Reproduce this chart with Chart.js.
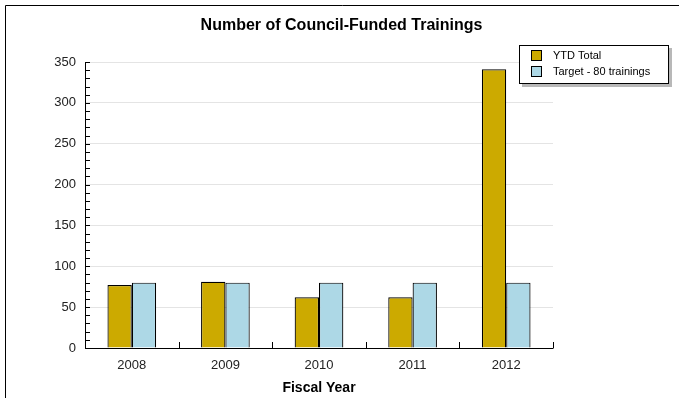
<!DOCTYPE html>
<html>
<head>
<meta charset="utf-8">
<script src="https://cdn.jsdelivr.net/npm/chart.js@4/dist/chart.umd.min.js"></script>
<style>
  html, body { margin: 0; padding: 0; background: #fff; }
  #wrap { width: 679px; height: 398px; position: relative; }
</style>
</head>
<body>
<div id="wrap"><canvas id="chart"></canvas></div>
<script>
// chart data
const chartTitle = "Number of Council-Funded Trainings";
const years = ["2008", "2009", "2010", "2011", "2012"];
const ytdTotal = [77, 81, 62, 62, 341];
const target = [80, 80, 80, 80, 80];
const seriesNames = ["YTD Total", "Target - 80 trainings"];
const yTickLabels = [0, 50, 100, 150, 200, 250, 300, 350];

const FONT = "'Liberation Sans', Arial, sans-serif";

// frame, page-centred title, inner tick marks and boxed legend with shadow
const decorPlugin = {
  id: "decor",
  afterDraw(chart) {
    const ctx = chart.ctx;
    const x = chart.scales.x;
    const y = chart.scales.y;
    const area = chart.chartArea;
    ctx.save();

    // outer frame (left + top only visible)
    ctx.strokeStyle = "#000";
    ctx.lineWidth = 1;
    ctx.beginPath();
    ctx.moveTo(5.5, 398);
    ctx.lineTo(5.5, 5.5);
    ctx.lineTo(679, 5.5);
    ctx.stroke();

    // title, centred on the whole picture
    ctx.fillStyle = "#000";
    ctx.font = "bold 16px " + FONT;
    ctx.textAlign = "center";
    ctx.textBaseline = "middle";
    ctx.fillText(chartTitle, chart.width / 2 + 2, 26);
    ctx.textAlign = "left";

    // axis lines
    ctx.beginPath();
    ctx.moveTo(area.left + 0.5, area.top);
    ctx.lineTo(area.left + 0.5, area.bottom + 0.5);
    ctx.lineTo(area.right + 0.5, area.bottom + 0.5);
    ctx.stroke();

    // y ticks every 10, pointing into the plot
    for (let v = 0; v <= 350; v += 10) {
      const py = Math.round(y.getPixelForValue(v)) + 0.5;
      ctx.beginPath();
      ctx.moveTo(area.left, py);
      ctx.lineTo(area.left + 5, py);
      ctx.stroke();
    }

    // x ticks at category boundaries, pointing up
    const step = x.getPixelForValue(1) - x.getPixelForValue(0);
    for (let i = 0; i < years.length; i++) {
      const px = Math.round(x.getPixelForValue(i) + step / 2) + 0.5;
      ctx.beginPath();
      ctx.moveTo(px, area.bottom);
      ctx.lineTo(px, area.bottom - 6);
      ctx.stroke();
    }

    // legend box
    const lx = 519, ly = 45, lw = 149, lh = 38;
    ctx.fillStyle = "#b8b8b8";
    ctx.fillRect(lx + 3, ly + 3, lw + 1, lh + 1);
    ctx.fillStyle = "#fff";
    ctx.fillRect(lx, ly, lw, lh);
    ctx.strokeStyle = "#000";
    ctx.strokeRect(lx + 0.5, ly + 0.5, lw, lh);

    ctx.font = "11px " + FONT;
    ctx.textBaseline = "middle";
    chart.data.datasets.forEach((ds, i) => {
      const ry = ly + 10 + i * 16;
      ctx.fillStyle = ds.backgroundColor;
      ctx.fillRect(lx + 12, ry - 5, 10, 10);
      ctx.strokeStyle = "#000";
      ctx.strokeRect(lx + 12.5, ry - 4.5, 10, 10);
      ctx.fillStyle = "#000";
      ctx.fillText(ds.label, lx + 34, ry + 1);
    });

    ctx.restore();
  }
};

new Chart(document.getElementById("chart"), {
  type: "bar",
  data: {
    labels: years,
    datasets: [
      {
        label: seriesNames[0],
        data: ytdTotal,
        backgroundColor: "#ccaa00",
        borderColor: "#000",
        borderWidth: 1.2,
        barPercentage: 1,
        categoryPercentage: 0.52
      },
      {
        label: seriesNames[1],
        data: target,
        backgroundColor: "#add8e6",
        borderColor: "#000",
        borderWidth: 1.2,
        barPercentage: 1,
        categoryPercentage: 0.52
      }
    ]
  },
  options: {
    responsive: true,
    maintainAspectRatio: false,
    animation: false,
    layout: { padding: { left: 0, right: 126, top: 62, bottom: 0 } },
    plugins: {
      legend: { display: false },
      tooltip: { enabled: false },
      title: { display: false }
    },
    scales: {
      x: {
        afterFit: s => { s.height = 50; },
        grid: { display: false, drawTicks: false },
        border: { display: false },
        ticks: {
          color: "#222",
          font: { family: FONT, size: 13 },
          padding: 10
        },
        title: {
          display: true,
          text: "Fiscal Year",
          color: "#000",
          font: { family: FONT, size: 14, weight: "bold" },
          padding: { top: 0, bottom: 1 }
        }
      },
      y: {
        min: 0,
        max: 350,
        afterFit: s => { s.width = 85; },
        afterBuildTicks: s => { s.ticks = yTickLabels.map(v => ({ value: v })); },
        border: { display: false },
        grid: {
          color: "#e4e4e4",
          drawTicks: false
        },
        ticks: {
          color: "#222",
          font: { family: FONT, size: 13 },
          padding: 9
        }
      }
    }
  },
  plugins: [decorPlugin]
});
</script>
</body>
</html>
